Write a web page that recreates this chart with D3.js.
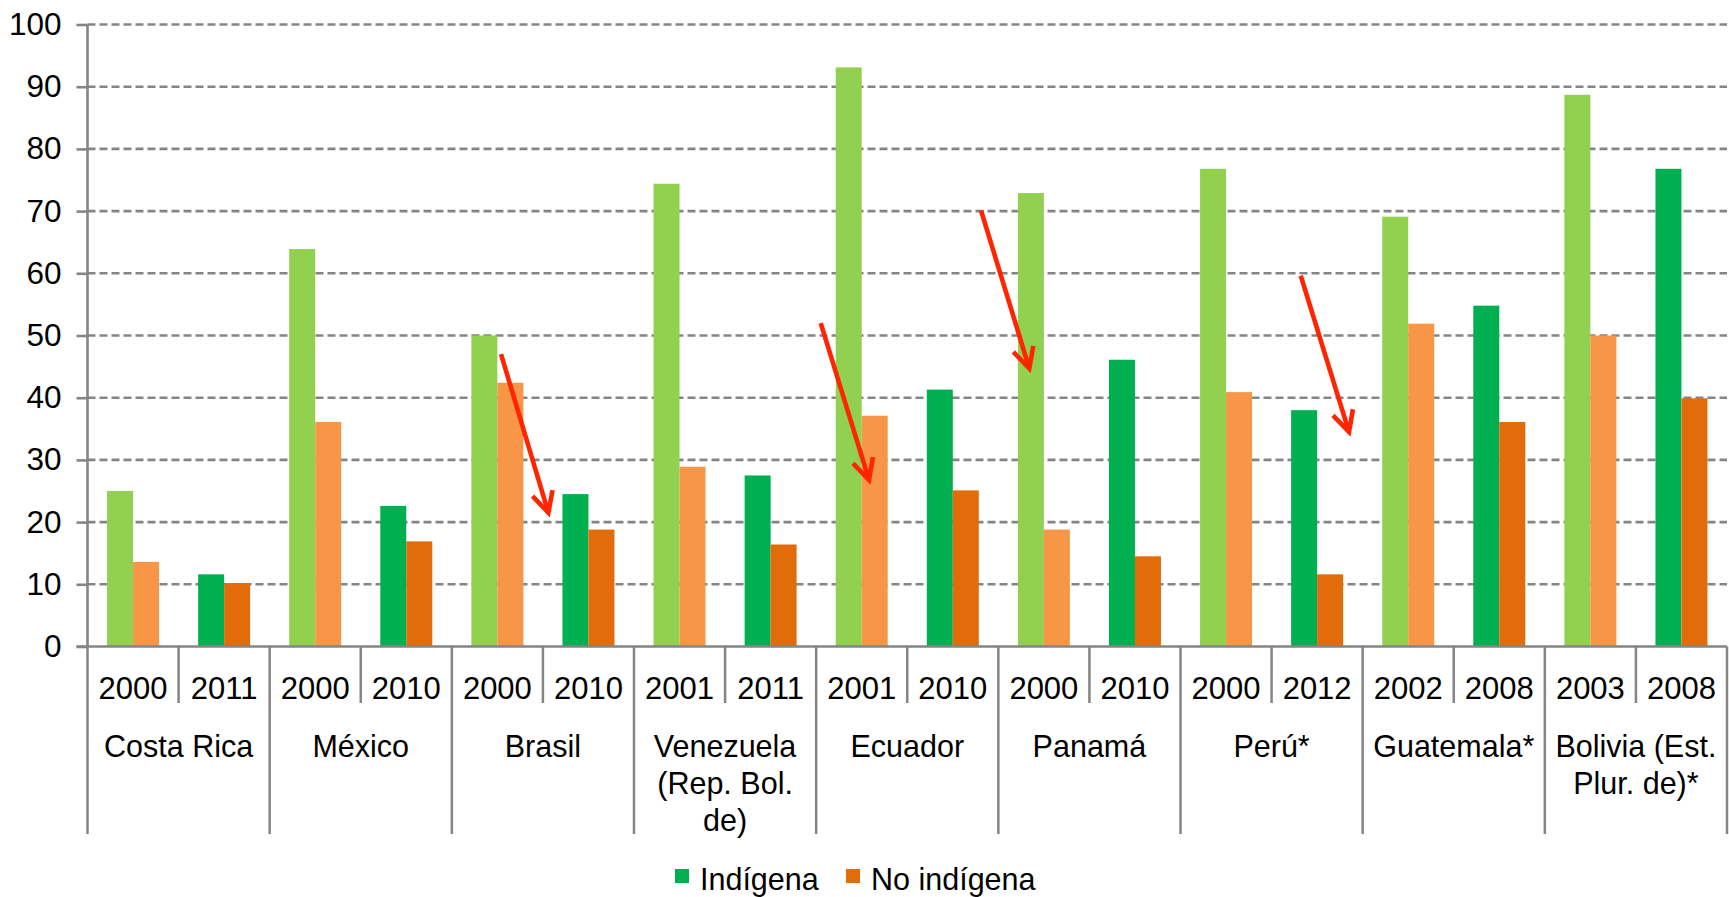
<!DOCTYPE html>
<html>
<head>
<meta charset="utf-8">
<script src="https://cdn.jsdelivr.net/npm/d3@7"></script>
<style>
  body { margin: 0; background: #fff; }
  svg { display: block; }
  text { font-family: "Liberation Sans", Arial, sans-serif; fill: #000; }
</style>
</head>
<body>
<svg id="chart" width="1729" height="897"></svg>
<script>
// ---------------- data ----------------
const countries = ["Costa Rica", "México", "Brasil", "Venezuela (Rep. Bol. de)", "Ecuador", "Panamá", "Perú*", "Guatemala*", "Bolivia (Est. Plur. de)*"];
const countryLines = [["Costa Rica"], ["México"], ["Brasil"], ["Venezuela", "(Rep. Bol.", "de)"], ["Ecuador"], ["Panamá"], ["Perú*"], ["Guatemala*"], ["Bolivia (Est.", "Plur. de)*"]];
const years = ["2000", "2011", "2000", "2010", "2000", "2010", "2001", "2011", "2001", "2010", "2000", "2010", "2000", "2012", "2002", "2008", "2003", "2008"];
const indigena   = [25.0, 11.6, 63.9, 22.6, 50.0, 24.5, 74.4, 27.5, 93.1, 41.3, 72.9, 46.1, 76.8, 38.0, 69.1, 54.8, 88.7, 76.8];
const noIndigena = [13.6, 10.2, 36.1, 16.9, 42.4, 18.8, 28.9, 16.4, 37.1, 25.1, 18.8, 14.5, 40.9, 11.6, 51.9, 36.1, 50.0, 39.9];
const seriesNames = ["Indígena", "No indígena"];
const yTicks = [0, 10, 20, 30, 40, 50, 60, 70, 80, 90, 100];
// red annotation arrows, in data units (x = position in year slots, y = value)
const arrowStartX = [4.54, 8.05, 9.81, 13.32];
const arrowStartY = [47.0, 52.0, 70.1, 59.6];
const arrowEndX   = [5.06, 8.58, 10.34, 13.85];
const arrowEndY   = [21.5, 26.8, 44.7, 34.5];

// ---------------- layout ----------------
const svg = d3.select("#chart");
const mLeft = 87.5, mRight = 1727, mTop = 24.5, mBottom = 646.5;
const gray = "#858585";
const lightColors = ["#92D050", "#F79646"];
const darkColors  = ["#00B050", "#E36C0A"];

const slots = d3.range(years.length);
const x = d3.scaleBand().domain(slots).range([mLeft, mRight]).paddingInner(0).paddingOuter(0);
const xs = d3.scaleBand().domain([0, 1]).range([0, x.bandwidth()]).paddingInner(0).paddingOuter(0.752);
const xIdx = d3.scaleLinear().domain([0, years.length]).range([mLeft, mRight]);
const y = d3.scaleLinear().domain([0, 100]).range([mBottom, mTop]);

// gridlines (dashed)
svg.append("g").selectAll("line").data(yTicks.filter(d => d > 0)).join("line")
  .attr("x1", mLeft).attr("x2", mRight)
  .attr("y1", d => y(d)).attr("y2", d => y(d))
  .attr("stroke", gray).attr("stroke-width", 2.6).attr("stroke-dasharray", "8,4");

// y axis
const yAxis = d3.axisLeft(y).tickValues(yTicks).tickSize(11).tickPadding(15).tickFormat(d3.format("d"));
const ga = svg.append("g").attr("transform", `translate(${mLeft},0)`).call(yAxis);
ga.select(".domain").remove();
ga.selectAll(".tick line").attr("stroke", gray).attr("stroke-width", 2.6);
ga.selectAll(".tick text").attr("font-size", 31.5).attr("font-family", '"Liberation Sans", Arial, sans-serif').attr("fill", "#000");
svg.append("line").attr("x1", mLeft).attr("x2", mLeft).attr("y1", y(100)).attr("y2", mBottom)
  .attr("stroke", gray).attr("stroke-width", 2.6);

// bars
const rows = slots.map(i => ({ i, vals: [indigena[i], noIndigena[i]], dark: i % 2 === 1 }));
const gBars = svg.append("g");
rows.forEach(r => {
  gBars.append("g").selectAll("rect").data([0, 1]).join("rect")
    .attr("x", s => x(r.i) + xs(s))
    .attr("width", xs.bandwidth())
    .attr("y", s => y(r.vals[s]))
    .attr("height", s => y(0) - y(r.vals[s]))
    .attr("fill", s => (r.dark ? darkColors : lightColors)[s]);
});

// x axis line
svg.append("line").attr("x1", mLeft - 11).attr("x2", mRight).attr("y1", mBottom).attr("y2", mBottom)
  .attr("stroke", gray).attr("stroke-width", 2.6);

// separators in label area
const gSep = svg.append("g").attr("stroke", gray).attr("stroke-width", 2.5);
d3.range(years.length + 1).forEach(k => {
  const longSep = k % 2 === 0;
  gSep.append("line")
    .attr("x1", xIdx(k)).attr("x2", xIdx(k))
    .attr("y1", mBottom).attr("y2", longSep ? 834 : 703);
});

// year labels
svg.append("g").selectAll("text").data(slots).join("text")
  .attr("x", i => x(i) + x.bandwidth() / 2)
  .attr("y", 698.5)
  .attr("text-anchor", "middle").attr("font-size", 31)
  .text(i => years[i]);

// country labels
const gC = svg.append("g");
countries.forEach((c, ci) => {
  const cx = xIdx(ci * 2 + 1);
  const t = gC.append("text").attr("text-anchor", "middle").attr("font-size", 30.5);
  countryLines[ci].forEach((ln, li) => {
    t.append("tspan").attr("x", cx).attr("y", 757 + li * 37).text(ln);
  });
});

// annotation arrows
const gA = svg.append("g").attr("stroke", "#FF2500").attr("stroke-width", 4.6).attr("fill", "none")
  .attr("stroke-linecap", "butt").attr("stroke-linejoin", "miter");
arrowStartX.forEach((sx, k) => {
  const x0 = xIdx(sx), y0 = y(arrowStartY[k]);
  const x1 = xIdx(arrowEndX[k]), y1 = y(arrowEndY[k]);
  const ang = Math.atan2(y0 - y1, x0 - x1);
  const L = 23, a = 27 * Math.PI / 180;
  const p1 = [x1 + L * Math.cos(ang + a), y1 + L * Math.sin(ang + a)];
  const p2 = [x1 + L * Math.cos(ang - a), y1 + L * Math.sin(ang - a)];
  gA.append("path").attr("d", d3.line()([[x0, y0], [x1, y1]]));
  gA.append("path").attr("d", d3.line()([p1, [x1, y1], p2]));
});

// legend
const legX = [675, 846];
const gL = svg.append("g");
seriesNames.forEach((n, k) => {
  gL.append("rect").attr("x", legX[k]).attr("y", 869).attr("width", 14).attr("height", 14).attr("fill", darkColors[k]);
  gL.append("text").attr("x", legX[k] + 25).attr("y", 890).attr("font-size", 30.5).text(n);
});
</script>
</body>
</html>
